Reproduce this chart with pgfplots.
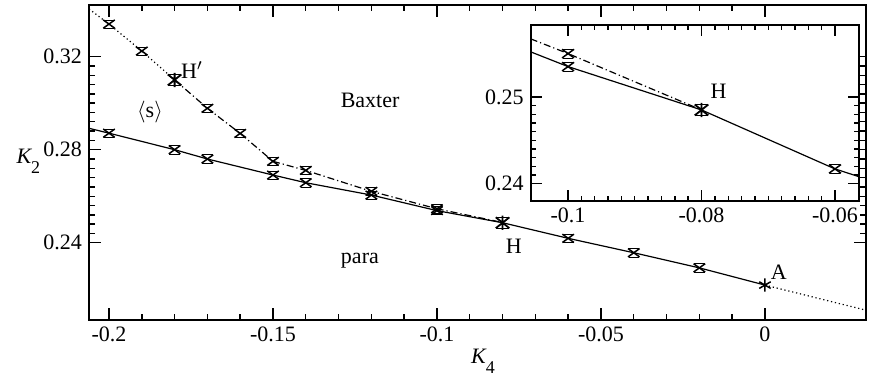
\documentclass[border=0pt]{standalone}
\usepackage{fontspec}
\setmainfont{Liberation Serif}
\usepackage{pgfplots}
\pgfplotsset{compat=1.18}
\usetikzlibrary{calc}

% a cross with thin horizontal error-bar caps
\pgfdeclareplotmark{hx}{%
  \pgfpathmoveto{\pgfqpoint{-\pgfplotmarksize}{-0.72\pgfplotmarksize}}%
  \pgfpathlineto{\pgfqpoint{\pgfplotmarksize}{0.72\pgfplotmarksize}}%
  \pgfpathmoveto{\pgfqpoint{-\pgfplotmarksize}{0.72\pgfplotmarksize}}%
  \pgfpathlineto{\pgfqpoint{\pgfplotmarksize}{-0.72\pgfplotmarksize}}%
  \pgfusepathqstroke
  \begin{pgfscope}
  \pgfsetlinewidth{0.35pt}%
  \pgfpathmoveto{\pgfqpoint{-0.9\pgfplotmarksize}{0.72\pgfplotmarksize}}%
  \pgfpathlineto{\pgfqpoint{0.9\pgfplotmarksize}{0.72\pgfplotmarksize}}%
  \pgfpathmoveto{\pgfqpoint{-0.9\pgfplotmarksize}{-0.72\pgfplotmarksize}}%
  \pgfpathlineto{\pgfqpoint{0.9\pgfplotmarksize}{-0.72\pgfplotmarksize}}%
  \pgfusepathqstroke
  \end{pgfscope}}
% same, with a vertical stroke through the centre
\pgfdeclareplotmark{hstar}{%
  \pgfpathmoveto{\pgfqpoint{-\pgfplotmarksize}{-0.8\pgfplotmarksize}}%
  \pgfpathlineto{\pgfqpoint{\pgfplotmarksize}{0.8\pgfplotmarksize}}%
  \pgfpathmoveto{\pgfqpoint{-\pgfplotmarksize}{0.8\pgfplotmarksize}}%
  \pgfpathlineto{\pgfqpoint{\pgfplotmarksize}{-0.8\pgfplotmarksize}}%
  \pgfpathmoveto{\pgfqpoint{0pt}{-1.05\pgfplotmarksize}}%
  \pgfpathlineto{\pgfqpoint{0pt}{1.05\pgfplotmarksize}}%
  \pgfusepathqstroke
  \begin{pgfscope}
  \pgfsetlinewidth{0.4pt}%
  \pgfpathmoveto{\pgfqpoint{-0.9\pgfplotmarksize}{0.8\pgfplotmarksize}}%
  \pgfpathlineto{\pgfqpoint{0.9\pgfplotmarksize}{0.8\pgfplotmarksize}}%
  \pgfpathmoveto{\pgfqpoint{-0.9\pgfplotmarksize}{-0.8\pgfplotmarksize}}%
  \pgfpathlineto{\pgfqpoint{0.9\pgfplotmarksize}{-0.8\pgfplotmarksize}}%
  \pgfusepathqstroke
  \end{pgfscope}}

\tikzset{
  dashdot/.style={dash pattern=on 3.5pt off 1.5pt on 0.6pt off 1.5pt},
  dots/.style={dash pattern=on 0.6pt off 1.4pt},
}

\pgfplotsset{
  phasediag/.style={
    scale only axis,
    tick align=inside,
    xtick pos=both, ytick pos=both,
    major tick length=6pt, minor tick length=3pt,
    axis line style={line width=1pt},
    every tick/.style={line width=0.7pt, black},
    tick label style={font=\fontsize{11}{13}\selectfont},
    clip mode=individual,
  },
}

\begin{document}
\begin{tikzpicture}
\begin{axis}[phasediag, name=main,
  width=388.5pt, height=157.5pt,
  xmin=-0.2061, xmax=0.0308, ymin=0.2068, ymax=0.3422,
  xtick={-0.2,-0.15,-0.1,-0.05,0},
  xticklabels={-0.2,-0.15,-0.1,-0.05,0},
  ytick={0.24,0.28,0.32},
  yticklabels={0.24,0.28,0.32},
  minor x tick num=4, minor y tick num=9,
]
% para / <s> boundary
\addplot[line width=0.6pt, mark=none] coordinates {
  (-0.2061,0.2892) (-0.2,0.2871) (-0.18,0.2800) (-0.17,0.2760)
  (-0.15,0.2691) (-0.14,0.2658) (-0.12,0.2605) (-0.10,0.2538)
  (-0.08,0.2486) (-0.06,0.2419) (-0.04,0.2357) (-0.02,0.2292)
  (0,0.2218)};
\addplot[line width=0.6pt, dots, mark=none] coordinates {
  (0,0.2218) (0.0308,0.2110)};
% <s> / Baxter boundary
\addplot[line width=0.6pt, dots, mark=none] coordinates {
  (-0.2061,0.3405) (-0.2,0.3340) (-0.19,0.3224) (-0.18,0.3100)};
\addplot[line width=0.6pt, dashdot, mark=none] coordinates {
  (-0.18,0.3100) (-0.17,0.2978) (-0.16,0.2870) (-0.15,0.2750)
  (-0.14,0.2711) (-0.12,0.2621) (-0.10,0.2546) (-0.08,0.2487)};
% data points
\addplot[only marks, mark=hx, mark size=2.9pt,
  mark options={line width=0.75pt}] coordinates {
  (-0.2,0.2871) (-0.18,0.2800) (-0.17,0.2760) (-0.15,0.2691)
  (-0.14,0.2658) (-0.12,0.2605) (-0.10,0.2538) (-0.06,0.2419)
  (-0.04,0.2357) (-0.02,0.2292)
  (-0.2,0.3340) (-0.19,0.3224) (-0.17,0.2978) (-0.16,0.2870)
  (-0.15,0.2750) (-0.14,0.2711) (-0.12,0.2621) (-0.10,0.2546)};
\addplot[only marks, mark=hstar, mark size=3.4pt,
  mark options={line width=0.9pt}] coordinates {
  (-0.18,0.3100) (-0.08,0.2486)};
\addplot[only marks, mark=asterisk, mark size=3.3pt,
  mark options={line width=0.75pt}] coordinates {(0,0.2218)};
% region and point labels
\begin{scope}[font=\fontsize{11}{13}\selectfont]
\node at (axis cs:-0.1747,0.3143) {H$'$};
\node at (axis cs:-0.1875,0.2962) {$\langle$s$\rangle$};
\node at (axis cs:-0.1204,0.3014) {Baxter};
\node at (axis cs:-0.1235,0.2325) {para};
\node at (axis cs:-0.0766,0.2383) {H};
\node at (axis cs:0.0042,0.2273) {A};
\node at (rel axis cs:-0.078,0.505) {\itshape K\raisebox{-5pt}{\upshape\fontsize{9}{9}\selectfont 2}};
\node at (rel axis cs:0.507,-0.13) {\itshape K\raisebox{-5pt}{\upshape\fontsize{9}{9}\selectfont 4}};
\end{scope}
\end{axis}

% close-up around H
\begin{axis}[phasediag,
  at={($(main.south west)+(220.85pt,59.5pt)$)}, anchor=south west,
  width=164.15pt, height=88pt,
  axis background/.style={fill=white},
  xmin=-0.1056, xmax=-0.0564, ymin=0.2380, ymax=0.2583,
  xtick={-0.1,-0.08,-0.06},
  xticklabels={-0.1,-0.08,-0.06},
  ytick={0.24,0.25},
  yticklabels={0.24,0.25},
  minor x tick num=9, minor y tick num=9,
  major tick length=5.5pt, minor tick length=2.5pt,
]
\addplot[line width=0.6pt, mark=none] coordinates {
  (-0.1056,0.2552) (-0.10,0.2535) (-0.08,0.2485) (-0.06,0.2417)
  (-0.0564,0.2408)};
\addplot[line width=0.6pt, dashdot, mark=none] coordinates {
  (-0.1056,0.2567) (-0.10,0.2550) (-0.08,0.2485)};
\addplot[only marks, mark=hx, mark size=3pt,
  mark options={line width=0.75pt}] coordinates {
  (-0.10,0.2535) (-0.10,0.2550) (-0.06,0.2417)};
\addplot[only marks, mark=hstar, mark size=3.4pt,
  mark options={line width=0.9pt}] coordinates {(-0.08,0.2485)};
\node[font=\fontsize{11}{13}\selectfont] at (axis cs:-0.07745,0.2507) {H};
\end{axis}

\pgfresetboundingbox
\path[use as bounding box] ($(main.south west)+(-44.5pt,-31.5pt)$)
  rectangle ($(main.south west)+(390pt,160pt)$);
\end{tikzpicture}
\end{document}
